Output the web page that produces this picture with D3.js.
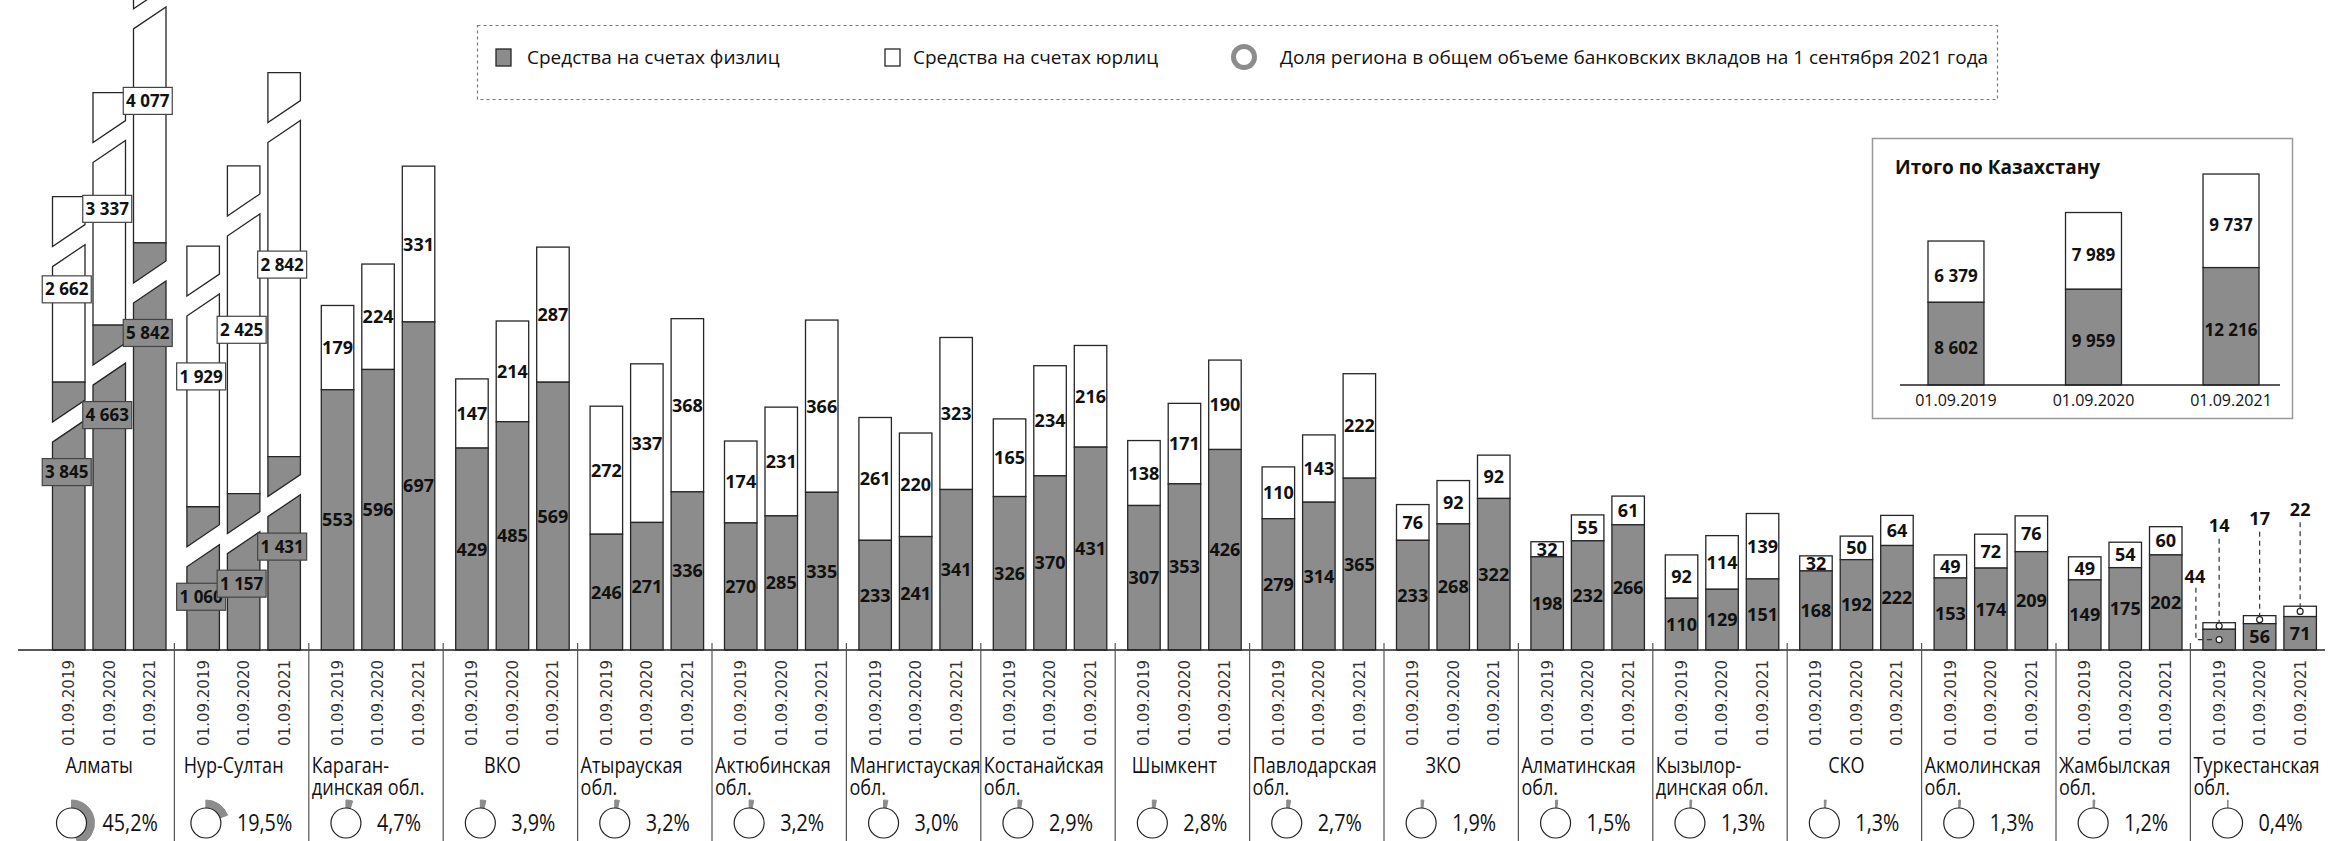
<!DOCTYPE html>
<html>
<head>
<meta charset="utf-8">
<script src="https://cdn.jsdelivr.net/npm/d3@7"></script>
<style>
  html, body { margin: 0; padding: 0; background: #fff; }
  svg { display: block; }
  text { font-family: "Open Sans", "Noto Sans", sans-serif; fill: #111; }
</style>
</head>
<body>
<svg id="chart" width="2352" height="841"></svg>
<script>
// ---- data (bn tenge) ----
const regions = [
  "Алматы", "Нур-Султан", "Караган-\nдинская обл.", "ВКО", "Атырауская\nобл.",
  "Актюбинская\nобл.", "Мангистауская\nобл.", "Костанайская\nобл.", "Шымкент",
  "Павлодарская\nобл.", "ЗКО", "Алматинская\nобл.", "Кызылор-\nдинская обл.", "СКО",
  "Акмолинская\nобл.", "Жамбылская\nобл.", "Туркестанская\nобл."
];
const years = ["01.09.2019", "01.09.2020", "01.09.2021"];
const individuals = [
  [3845, 4663, 5842], [1060, 1157, 1431], [553, 596, 697], [429, 485, 569],
  [246, 271, 336], [270, 285, 335], [233, 241, 341], [326, 370, 431],
  [307, 353, 426], [279, 314, 365], [233, 268, 322], [198, 232, 266],
  [110, 129, 151], [168, 192, 222], [153, 174, 209], [149, 175, 202], [44, 56, 71]
];
const legalEntities = [
  [2662, 3337, 4077], [1929, 2425, 2842], [179, 224, 331], [147, 214, 287],
  [272, 337, 368], [174, 231, 366], [261, 220, 323], [165, 234, 216],
  [138, 171, 190], [110, 143, 222], [76, 92, 92], [32, 55, 61],
  [92, 114, 139], [32, 50, 64], [49, 72, 76], [49, 54, 60], [14, 17, 22]
];
const shares = [45.2, 19.5, 4.7, 3.9, 3.2, 3.2, 3.0, 2.9, 2.8, 2.7, 1.9, 1.5, 1.3, 1.3, 1.3, 1.2, 0.4];
const totalIndividuals = [8602, 9959, 12216];
const totalLegal = [6379, 7989, 9737];
const legendLabels = [
  "Средства на счетах физлиц",
  "Средства на счетах юрлиц",
  "Доля региона в общем объеме банковских вкладов на 1 сентября 2021 года"
];
const insetTitle = "Итого по Казахстану";

// ---- styling ----
const GREY = "#8c8c8c";
const INK = "#262626";
const NARROW = 0.86; // horizontal squeeze for the condensed captions
const svg = d3.select("#chart");

const locale = d3.formatLocale({ decimal: ",", thousands: "\u00a0", grouping: [3], currency: ["", ""] });
const fmtInt = locale.format(",d");
const fmtPct = v => locale.format(".1f")(v) + "%";

// ---- scales ----
const baseY = 650;
const groupStep = 134.4;
const x0 = d3.scaleBand().domain(regions).range([40, 40 + groupStep * regions.length]);
const x1 = d3.scaleBand().domain(years).range([12.5, 126]).paddingInner(0.1975);
const bw = x1.bandwidth();
const yMax = 1381;
// the two largest cities are drawn on compressed scales, marked by bar breaks
const compression = new Map([["Алматы", 6.755], ["Нур-Султан", 3.483]]);
const yFor = name => d3.scaleLinear().domain([0, yMax * (compression.get(name) || 1)]).range([baseY, 0]);

const plot = svg.append("g");
const labels = svg.append("g");

// bar piece with a slanted break
function brokenPieces(g, xa, xb, yTop, yBot, cut, fill) {
  const slant = 22, gap = 20;
  const upper = [[xa, yTop], [xb, yTop], [xb, yTop + cut - slant], [xa, yTop + cut]];
  const lower = [[xa, yTop + cut + gap], [xb, yTop + cut + gap - slant], [xb, yBot], [xa, yBot]];
  [upper, lower].forEach(p => {
    g.append("path").attr("d", "M" + p.map(q => q.join(",")).join("L") + "Z")
      .attr("fill", fill).attr("stroke", INK).attr("stroke-width", 1.3);
  });
}

function boxedLabel(g, cx, cy, text, fill) {
  g.append("rect").attr("x", cx - 24.5).attr("y", cy - 13.5).attr("width", 49).attr("height", 27)
    .attr("fill", fill).attr("stroke", "#444").attr("stroke-width", 1.2);
  g.append("text").attr("x", cx).attr("y", cy).attr("dy", "0.36em").attr("text-anchor", "middle")
    .style("font-weight", 700).style("font-size", "17px").text(text);
}

function valueLabel(g, cx, cy, text) {
  g.append("text").attr("x", cx).attr("y", cy).attr("dy", "0.36em").attr("text-anchor", "middle")
    .style("font-weight", 700).style("font-size", "18px").text(text);
}

function callout(g, lx, ly, px, py, text, elbow) {
  const path = elbow ? `M${lx + 1},${ly + 11}V${py}H${px}` : `M${px},${ly + 13}V${py}`;
  g.append("path").attr("d", path).attr("fill", "none").attr("stroke", "#333")
    .attr("stroke-width", 1.2).attr("stroke-dasharray", "5,4");
  g.append("circle").attr("cx", px).attr("cy", py).attr("r", 3).attr("fill", "#fff")
    .attr("stroke", "#222").attr("stroke-width", 1.2);
  valueLabel(g, lx, ly, text);
}

regions.forEach((name, i) => {
  const gx = x0(name);
  const g = plot.append("g").attr("transform", `translate(${gx},0)`);
  const lg = labels.append("g").attr("transform", `translate(${gx},0)`);
  const ys = yFor(name);
  const broken = compression.has(name);

  years.forEach((yr, j) => {
    const xa = x1(yr), xb = xa + bw, cx = xa + bw / 2;
    const gv = individuals[i][j], wv = legalEntities[i][j];
    const yg = ys(gv), yt = ys(gv + wv);

    if (broken) {
      brokenPieces(g, xa, xb, yt, yg, 50, "#fff");
      brokenPieces(g, xa, xb, yg, baseY, 40, GREY);
      boxedLabel(lg, cx - 2, yg + 90, fmtInt(gv), GREY);
      boxedLabel(lg, cx - 2, (yt + yg) / 2, fmtInt(wv), "#fff");
    } else {
      g.append("rect").attr("x", xa).attr("y", yt).attr("width", bw).attr("height", yg - yt)
        .attr("fill", "#fff").attr("stroke", INK).attr("stroke-width", 1.3);
      g.append("rect").attr("x", xa).attr("y", yg).attr("width", bw).attr("height", baseY - yg)
        .attr("fill", GREY).attr("stroke", INK).attr("stroke-width", 1.3);
      const hW = yg - yt, hG = baseY - yg;
      if (hW < 12) callout(lg, cx, yt - 97, cx, (yt + yg) / 2, fmtInt(wv), false);
      else valueLabel(lg, cx, (yt + yg) / 2, fmtInt(wv));
      if (hG < 22) callout(lg, xa - 8, (yg + baseY) / 2 - 63, cx, (yg + baseY) / 2, fmtInt(gv), true);
      else valueLabel(lg, cx, (yg + baseY) / 2, fmtInt(gv));
    }

    // date tick label
    lg.append("text").attr("transform", `translate(${cx},660) rotate(-90)`)
      .attr("dy", "0.36em").attr("text-anchor", "end")
      .style("font-family", "'DejaVu Sans', sans-serif").style("font-size", "15px")
      .style("fill", "#333").text(yr);
  });

  // region name (condensed)
  const lines = name.split("\n");
  if (lines.length === 1) {
    lg.append("g").attr("transform", `translate(${x0.bandwidth() / 2 - 8},773) scale(${NARROW},1)`)
      .append("text").attr("text-anchor", "middle").style("font-size", "21px").text(name);
  } else {
    const t = lg.append("g").attr("transform", `translate(3,773) scale(${NARROW},1)`)
      .append("text").style("font-size", "21px");
    lines.forEach((ln, k) => t.append("tspan").attr("x", 0).attr("y", k * 22).text(ln));
  }

  // share donut + percentage, centred as one unit in the group
  const pctG = lg.append("g");
  const pct = pctG.append("text").attr("dy", "0.35em").style("font-size", "23px").text(fmtPct(shares[i]));
  const tw = pct.node().getComputedTextLength() * NARROW;
  const unit = 30 + 16 + tw;
  const left = x0.bandwidth() / 2 - unit / 2;
  pctG.attr("transform", `translate(${left + 46},823) scale(${NARROW},1)`);
  const dc = lg.append("g").attr("transform", `translate(${left + 15},823)`);
  dc.append("path").attr("d", d3.arc().innerRadius(15).outerRadius(23)
      .startAngle(0).endAngle(shares[i] / 100 * 2 * Math.PI)())
    .attr("fill", GREY).attr("stroke", GREY).attr("stroke-width", 1);
  dc.append("circle").attr("r", 15).attr("fill", "#fff").attr("stroke", "#222").attr("stroke-width", 1.2);
});

// baseline and region separators
svg.append("line").attr("x1", 18).attr("x2", 2325).attr("y1", baseY).attr("y2", baseY)
  .attr("stroke", "#222").attr("stroke-width", 1.5);
regions.slice(1).forEach(name => {
  const sx = x0(name);
  svg.append("line").attr("x1", sx).attr("x2", sx).attr("y1", baseY - 7).attr("y2", 841)
    .attr("stroke", "#555").attr("stroke-width", 1.2);
});

// ---- legend ----
const leg = svg.append("g");
leg.append("rect").attr("x", 477.5).attr("y", 25.5).attr("width", 1520).attr("height", 74)
  .attr("fill", "none").attr("stroke", "#777").attr("stroke-width", 1.2).attr("stroke-dasharray", "3,3");
leg.append("rect").attr("x", 496).attr("y", 49).attr("width", 15).attr("height", 17)
  .attr("fill", GREY).attr("stroke", INK).attr("stroke-width", 1.3);
leg.append("text").attr("x", 527).attr("y", 64).style("font-size", "19px").text(legendLabels[0]);
leg.append("rect").attr("x", 885).attr("y", 49).attr("width", 15).attr("height", 17)
  .attr("fill", "#fff").attr("stroke", INK).attr("stroke-width", 1.3);
leg.append("text").attr("x", 913).attr("y", 64).style("font-size", "19px").text(legendLabels[1]);
leg.append("circle").attr("cx", 1244).attr("cy", 57).attr("r", 10.5)
  .attr("fill", "none").attr("stroke", GREY).attr("stroke-width", 5);
leg.append("text").attr("x", 1280).attr("y", 64).style("font-size", "19px").text(legendLabels[2]);

// ---- inset: country total ----
const inset = svg.append("g");
inset.append("rect").attr("x", 1872.5).attr("y", 138.5).attr("width", 420).attr("height", 280)
  .attr("fill", "#fff").attr("stroke", "#999").attr("stroke-width", 1.5);
inset.append("text").attr("x", 1895).attr("y", 174).style("font-weight", 700).style("font-size", "19px")
  .text(insetTitle);
const ix = d3.scaleBand().domain(years).range([1900, 2287]).paddingInner(0.593).paddingOuter(0.2036);
const iy = d3.scaleLinear().domain([0, 25000]).range([385, 144.75]);
years.forEach((yr, j) => {
  const xa = ix(yr), w = ix.bandwidth(), cx = xa + w / 2;
  const gv = totalIndividuals[j], wv = totalLegal[j];
  const yg = iy(gv), yt = iy(gv + wv);
  inset.append("rect").attr("x", xa).attr("y", yt).attr("width", w).attr("height", yg - yt)
    .attr("fill", "#fff").attr("stroke", INK).attr("stroke-width", 1.3);
  inset.append("rect").attr("x", xa).attr("y", yg).attr("width", w).attr("height", 385 - yg)
    .attr("fill", GREY).attr("stroke", INK).attr("stroke-width", 1.3);
  inset.append("text").attr("x", cx).attr("y", (yt + yg) / 2 + 4).attr("dy", "0.36em")
    .attr("text-anchor", "middle").style("font-weight", 700).style("font-size", "17px").text(fmtInt(wv));
  inset.append("text").attr("x", cx).attr("y", (yg + 385) / 2 + 4).attr("dy", "0.36em")
    .attr("text-anchor", "middle").style("font-weight", 700).style("font-size", "17px").text(fmtInt(gv));
  inset.append("text").attr("x", cx).attr("y", 406).attr("text-anchor", "middle")
    .style("font-size", "16px").text(yr);
});
inset.append("line").attr("x1", 1900).attr("x2", 2280).attr("y1", 385).attr("y2", 385)
  .attr("stroke", "#222").attr("stroke-width", 1.5);
</script>
</body>
</html>
